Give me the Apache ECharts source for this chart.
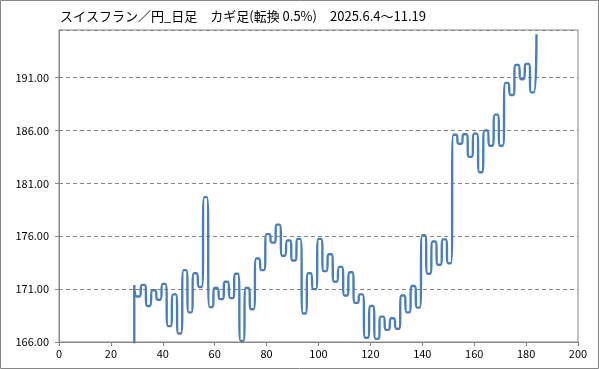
<!DOCTYPE html>
<html>
<head>
<meta charset="utf-8">
<script src="https://cdn.jsdelivr.net/npm/echarts@6/dist/echarts.min.js"></script>
<style>
  html, body { margin: 0; padding: 0; background: #fff; }
  #chart { width: 599px; height: 369px; }
</style>
</head>
<body>
<div id="chart"></div>
<script>
// ---- data ----
const titleText = 'スイスフラン／円_日足　カギ足(転換 0.5%)　2025.6.4〜11.19';
const startX = 29;          // x where the Kagi line begins
const startFloor = 160;     // opening stroke comes up from below the axis
const startLevel = 171.4;   // first top
// successive Kagi turning levels (each held for one x step)
const kagiLevels = [
  170.3, 171.4, 169.4, 170.9, 170.0, 171.5, 167.5, 170.5, 166.8, 172.8,
  168.8, 172.5, 171.2, 179.7, 169.3, 171.1, 170.05, 171.7, 170.15, 172.45,
  166.1, 171.1, 169.1, 173.9, 172.8, 176.2, 175.4, 177.1, 174.15, 175.6,
  173.7, 175.75, 168.7, 172.5, 171.0, 175.75, 172.7, 174.3, 171.7, 173.1,
  170.4, 172.6, 169.7, 170.5, 166.4, 169.4, 166.3, 168.4, 167.15, 168.25,
  167.25, 170.4, 168.8, 171.3, 169.25, 176.1, 172.45, 175.5, 173.3, 175.7,
  173.45, 185.6, 184.75, 185.65, 183.5, 185.7, 182.05, 186.0, 184.55, 187.5,
  184.55, 190.5, 189.35, 192.2, 190.85, 192.3, 189.6
];
const endLevel = 195.1;     // last close
const xTicks = [0, 20, 40, 60, 80, 100, 120, 140, 160, 180, 200];
const yTicks = [166, 171, 176, 181, 186, 191];

// ---- build series points ----
const pts = [[startX, startFloor], [startX, startLevel]];
kagiLevels.forEach((v, i) => {
  pts.push([startX + 1 + 2 * i, v]);
  pts.push([startX + 2 + 2 * i, v]);
});
pts.push([startX + 1 + 2 * kagiLevels.length, endLevel]);

const gridCol = '#868686';
const font = '"Noto Sans CJK JP", "Liberation Sans", sans-serif';

const chart = echarts.init(document.getElementById('chart'), null, { renderer: 'canvas' });
chart.setOption({
  animation: false,
  backgroundColor: '#fff',
  title: {
    text: titleText,
    left: 55, top: 5,
    textStyle: { fontSize: 13, fontWeight: 'normal', color: '#000', fontFamily: font }
  },
  graphic: [{
    type: 'rect', silent: true, z: -1,
    shape: { x: 0.5, y: 0.5, width: 598, height: 368 },
    style: { fill: 'none', stroke: gridCol, lineWidth: 1 }
  }],
  grid: {
    left: 59, right: 21, top: 30, bottom: 27,
    show: true, borderColor: gridCol, borderWidth: 1, backgroundColor: 'transparent'
  },
  xAxis: {
    type: 'value',
    min: xTicks[0], max: xTicks[xTicks.length - 1], interval: xTicks[1] - xTicks[0],
    axisLine: { show: true, onZero: false, lineStyle: { color: gridCol } },
    axisTick: { show: true, length: 4, lineStyle: { color: gridCol } },
    axisLabel: { color: '#000', fontSize: 11, fontFamily: font, margin: 6 },
    splitLine: { show: false }
  },
  yAxis: {
    type: 'value',
    min: yTicks[0], max: 195.5, interval: yTicks[1] - yTicks[0],
    axisLine: { show: true, onZero: false, lineStyle: { color: gridCol } },
    axisTick: { show: true, length: 4, lineStyle: { color: gridCol } },
    axisLabel: {
      color: '#000', fontSize: 11, fontFamily: font, margin: 10,
      showMaxLabel: false,
      formatter: v => v.toFixed(2)
    },
    splitLine: { show: true, lineStyle: { color: gridCol, type: [4, 3], width: 1 } }
  },
  series: [{
    type: 'line',
    data: pts,
    smooth: 1,
    showSymbol: false,
    clip: true,
    lineStyle: { color: '#4a7ebb', width: 2.4 },
    itemStyle: { color: '#4a7ebb' }
  }]
});
</script>
</body>
</html>
